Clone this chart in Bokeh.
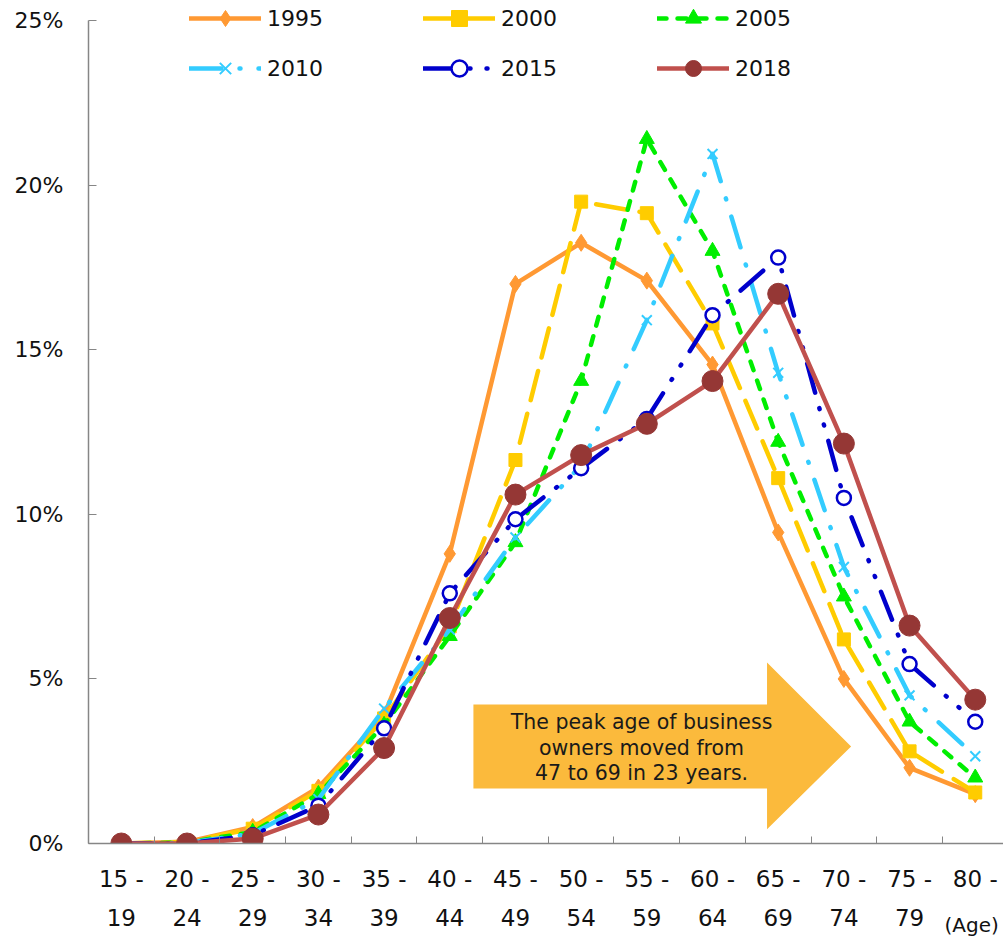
from bokeh.plotting import figure
from bokeh.models import (Range1d, FixedTicker, LinearAxis, PrintfTickFormatter,
                          Legend, LegendItem)
from bokeh.core.properties import value
from bokeh.embed import file_html
from bokeh.resources import INLINE

# ---------------- data ----------------
age_top = ["15 -", "20 -", "25 -", "30 -", "35 -", "40 -", "45 -", "50 -",
           "55 -", "60 -", "65 -", "70 -", "75 -", "80 -"]
age_bottom = ["19", "24", "29", "34", "39", "44", "49", "54", "59", "64",
              "69", "74", "79", ""]
age_unit = "(Age)"
years = ["1995", "2000", "2005", "2010", "2015", "2018"]

v1995 = [0.0, 0.05, 0.5, 1.7, 3.9, 8.8, 17.0, 18.25, 17.1, 14.55, 9.45, 5.0, 2.3, 1.5]
v2000 = [0.0, 0.05, 0.45, 1.6, 3.8, 6.6, 11.65, 19.5, 19.15, 15.8, 11.1, 6.2, 2.8, 1.55]
v2005 = [0.0, 0.03, 0.35, 1.5, 3.6, 6.3, 9.15, 14.05, 21.4, 18.0, 12.2, 7.5, 3.7, 2.0]
v2010 = [0.0, 0.02, 0.3, 1.35, 4.1, 6.5, 9.3, 11.5, 15.9, 20.95, 14.3, 8.4, 4.5, 2.65]
v2015 = [0.0, 0.0, 0.25, 1.15, 3.5, 7.6, 9.85, 11.4, 12.9, 16.05, 17.8, 10.5, 5.45, 3.7]
v2018 = [0.0, 0.0, 0.15, 0.88, 2.9, 6.85, 10.6, 11.8, 12.75, 14.05, 16.7, 12.15, 6.62, 4.37]
series = [v1995, v2000, v2005, v2010, v2015, v2018]

y_ticks = [0, 5, 10, 15, 20, 25]

note_lines = ["The peak age of business", "owners moved from", "47 to 69 in 23 years."]
# arrow annotation outline (x in category units, y in %)
arrow_x = [5.86, 10.33, 10.33, 11.61, 10.33, 10.33, 5.86]
arrow_y = [1.67, 1.67, 0.43, 2.95, 5.5, 4.22, 4.22]

# ---------------- styles ----------------
styles = [
    dict(color="#FF9933", dash="solid", marker="diamond", size=17, fill="#FF9933", edge="#FF9933", mlw=1),
    dict(color="#FFCC00", dash="30 14", marker="square", size=13, fill="#FFCC00", edge="#FFCC00", mlw=1),
    dict(color="#00EE00", dash="9 11", marker="triangle", size=15, fill="#00EE00", edge="#00EE00", mlw=1),
    dict(color="#33CCFF", dash="32 18 1 18", marker="x", size=14, fill="#33CCFF", edge="#33CCFF", mlw=2),
    dict(color="#0000CC", dash="30 16 1 16 1 16", marker="circle", size=14, fill="white", edge="#0000CC", mlw=2.5),
    dict(color="#C0504D", dash="solid", marker="circle", size=21, fill="#953735", edge="#953735", mlw=1),
]

FONT = "DejaVu Sans"
xs = [i + 0.5 for i in range(len(age_top))]

p = figure(width=1003, height=940, x_range=Range1d(0, 13.93), y_range=Range1d(0, 25.55),
           output_backend="svg", toolbar_location=None, x_axis_location=None,
           min_border_left=88, min_border_right=0, min_border_top=2, min_border_bottom=97)
p.grid.visible = False
p.outline_line_color = None
p.background_fill_color = "white"

# arrow
p.patch(arrow_x, arrow_y, fill_color="#FBBA3C", line_color=None)
p.text(x=[8.42] * 3, y=[3.68, 2.89, 2.13], text=note_lines, text_align="center",
       text_baseline="middle", text_font=value(FONT), text_font_size="20.5px",
       text_color="#1a1a1a")

items = []
for yr, vals, st in zip(years, series, styles):
    ln = p.line(xs, vals, line_color=st["color"], line_width=4.5, line_dash=st["dash"],
                line_cap="round", line_join="round")
    mk = p.scatter(xs, vals, marker=st["marker"], size=st["size"],
                   fill_color=st["fill"], line_color=st["edge"], line_width=st["mlw"])
    items.append(LegendItem(label=yr, renderers=[ln, mk]))

# y axis
ya = p.yaxis[0]
ya.ticker = FixedTicker(ticks=y_ticks)
ya.bounds = (0, 25)
ya.formatter = PrintfTickFormatter(format="%d%%")
ya.major_tick_in = 8
ya.major_tick_out = 0
ya.minor_tick_line_color = None
ya.axis_line_color = "#868686"
ya.major_tick_line_color = "#868686"
ya.axis_line_width = 1.5
ya.major_label_standoff = 25
ya.major_label_text_font = FONT
ya.major_label_text_font_size = "22px"
ya.major_label_text_color = "#111111"

# x axis (first label row + boundary ticks)
xa1 = LinearAxis(ticker=FixedTicker(ticks=xs, minor_ticks=list(range(len(age_top) + 1))),
                 major_label_overrides={x: t for x, t in zip(xs, age_top)})
xa1.major_tick_in = 0
xa1.major_tick_out = 0
xa1.minor_tick_in = 7
xa1.minor_tick_out = 0
xa1.axis_line_color = "#868686"
xa1.minor_tick_line_color = "#868686"
xa1.axis_line_width = 1.5
xa1.major_label_standoff = 22
xa1.major_label_text_font = FONT
xa1.major_label_text_font_size = "23px"
xa1.major_label_text_color = "#111111"
p.add_layout(xa1, "below")

# second label row, with the "(Age)" unit at its right end
# (non-breaking spaces shift the end-aligned, centred axis label to the left)
xa2 = LinearAxis(ticker=FixedTicker(ticks=xs, minor_ticks=[]),
                 major_label_overrides={x: t for x, t in zip(xs, age_bottom)},
                 axis_label=age_unit + "\u00a0" * 10)
xa2.axis_line_color = None
xa2.major_tick_line_color = None
xa2.minor_tick_line_color = None
xa2.major_label_standoff = 8
xa2.major_label_text_font = FONT
xa2.major_label_text_font_size = "23px"
xa2.major_label_text_color = "#111111"
xa2.axis_label_align = "end"
xa2.axis_label_standoff = -16
xa2.axis_label_text_font = FONT
xa2.axis_label_text_font_style = "normal"
xa2.axis_label_text_font_size = "20px"
xa2.axis_label_text_color = "#111111"
p.add_layout(xa2, "below")

# legends (two rows)
for row, loc_y in ((items[:3], 805), (items[3:], 755)):
    lg = Legend(items=row, orientation="horizontal", location=(101, loc_y),
                glyph_width=72, glyph_height=40, label_standoff=6, spacing=100,
                padding=0, margin=0, border_line_color=None, background_fill_alpha=0,
                label_text_font=FONT, label_text_font_size="22px",
                label_text_color="#111111")
    p.add_layout(lg)

open("out.html", "w").write(file_html(p, INLINE))
